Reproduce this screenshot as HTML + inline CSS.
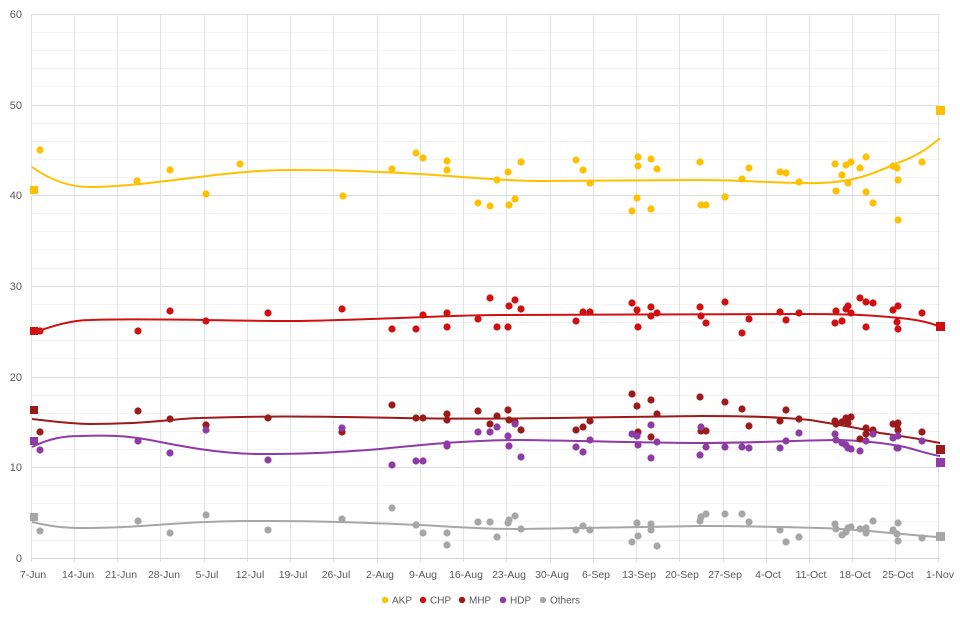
<!DOCTYPE html>
<html><head><meta charset="utf-8"><style>
body{margin:0;background:#fff;}
svg{display:block;font-family:"Liberation Sans",sans-serif;}
</style></head><body>
<svg width="960" height="620" viewBox="0 0 960 620">
<g stroke="#f3f3f3" stroke-width="1">
<line x1="31" x2="940" y1="32.5" y2="32.5"/><line x1="31" x2="940" y1="50.5" y2="50.5"/><line x1="31" x2="940" y1="68.5" y2="68.5"/><line x1="31" x2="940" y1="86.5" y2="86.5"/>
<line x1="31" x2="940" y1="123.5" y2="123.5"/><line x1="31" x2="940" y1="141.5" y2="141.5"/><line x1="31" x2="940" y1="159.5" y2="159.5"/><line x1="31" x2="940" y1="177.5" y2="177.5"/>
<line x1="31" x2="940" y1="213.5" y2="213.5"/><line x1="31" x2="940" y1="231.5" y2="231.5"/><line x1="31" x2="940" y1="249.5" y2="249.5"/><line x1="31" x2="940" y1="268.5" y2="268.5"/>
<line x1="31" x2="940" y1="304.5" y2="304.5"/><line x1="31" x2="940" y1="322.5" y2="322.5"/><line x1="31" x2="940" y1="340.5" y2="340.5"/><line x1="31" x2="940" y1="358.5" y2="358.5"/>
<line x1="31" x2="940" y1="395.5" y2="395.5"/><line x1="31" x2="940" y1="413.5" y2="413.5"/><line x1="31" x2="940" y1="431.5" y2="431.5"/><line x1="31" x2="940" y1="449.5" y2="449.5"/>
<line x1="31" x2="940" y1="485.5" y2="485.5"/><line x1="31" x2="940" y1="503.5" y2="503.5"/><line x1="31" x2="940" y1="521.5" y2="521.5"/><line x1="31" x2="940" y1="540.5" y2="540.5"/>
</g>
<g stroke="#dcdcdc" stroke-width="1">
<line x1="31" x2="940" y1="14.5" y2="14.5"/><line x1="31" x2="940" y1="105.5" y2="105.5"/><line x1="31" x2="940" y1="195.5" y2="195.5"/><line x1="31" x2="940" y1="286.5" y2="286.5"/><line x1="31" x2="940" y1="377.5" y2="377.5"/><line x1="31" x2="940" y1="467.5" y2="467.5"/>
</g>
<g stroke="#e2e2e2" stroke-width="1">
<line x1="31.5" x2="31.5" y1="14" y2="562"/><line x1="74.5" x2="74.5" y1="14" y2="562"/><line x1="117.5" x2="117.5" y1="14" y2="562"/><line x1="160.5" x2="160.5" y1="14" y2="562"/><line x1="204.5" x2="204.5" y1="14" y2="562"/><line x1="247.5" x2="247.5" y1="14" y2="562"/><line x1="290.5" x2="290.5" y1="14" y2="562"/><line x1="333.5" x2="333.5" y1="14" y2="562"/><line x1="377.5" x2="377.5" y1="14" y2="562"/><line x1="420.5" x2="420.5" y1="14" y2="562"/><line x1="463.5" x2="463.5" y1="14" y2="562"/><line x1="506.5" x2="506.5" y1="14" y2="562"/><line x1="550.5" x2="550.5" y1="14" y2="562"/><line x1="593.5" x2="593.5" y1="14" y2="562"/><line x1="636.5" x2="636.5" y1="14" y2="562"/><line x1="679.5" x2="679.5" y1="14" y2="562"/><line x1="723.5" x2="723.5" y1="14" y2="562"/><line x1="766.5" x2="766.5" y1="14" y2="562"/><line x1="809.5" x2="809.5" y1="14" y2="562"/><line x1="852.5" x2="852.5" y1="14" y2="562"/><line x1="895.5" x2="895.5" y1="14" y2="562"/><line x1="938.5" x2="938.5" y1="14" y2="562"/>
</g>
<line x1="31" x2="940" y1="558.5" y2="558.5" stroke="#cfcfcf"/>
<g fill="#595959" font-size="11" text-anchor="end">
<text x="22" y="18">60</text><text x="22" y="109">50</text><text x="22" y="199">40</text><text x="22" y="290">30</text><text x="22" y="381">20</text><text x="22" y="471">10</text><text x="22" y="562">0</text>
</g>
<g fill="#595959" font-size="10.5" text-anchor="middle">
<text x="33" y="578">7-Jun</text><text x="78" y="578">14-Jun</text><text x="121" y="578">21-Jun</text><text x="164" y="578">28-Jun</text><text x="207" y="578">5-Jul</text><text x="250" y="578">12-Jul</text><text x="293" y="578">19-Jul</text><text x="336" y="578">26-Jul</text><text x="380" y="578">2-Aug</text><text x="423" y="578">9-Aug</text><text x="466" y="578">16-Aug</text><text x="509" y="578">23-Aug</text><text x="552" y="578">30-Aug</text><text x="596" y="578">6-Sep</text><text x="639" y="578">13-Sep</text><text x="682" y="578">20-Sep</text><text x="725" y="578">27-Sep</text><text x="768" y="578">4-Oct</text><text x="811" y="578">11-Oct</text><text x="855" y="578">18-Oct</text><text x="898" y="578">25-Oct</text><text x="940" y="578">1-Nov</text>
</g>
<g fill="none" stroke-width="2" stroke-linejoin="round">
<path stroke="#FFC000" d="M32,167 C50,180 70,187 90,187 C150,187 220,170 290,170 C350,170 380,172 420,174 C480,178 510,181 540,181 C600,181 650,180 700,180 C750,180 780,184 820,183 C860,182 880,170 900,162 C920,155 932,145 940,138"/>
<path stroke="#D01010" d="M32,333 C50,327 70,320 90,320 C150,318 220,321 300,321 C400,319 450,315 500,315 C600,315 700,314 800,314 C850,314 870,315 900,318 C920,320 932,323 940,327"/>
<path stroke="#9B1B1B" d="M32,419 C50,421 70,424 90,424 C150,424 180,418 200,418 C260,416 300,416 400,418 C500,420 600,417 700,416 C750,416 780,417 810,420 C840,425 860,428 880,433 C910,437 930,441 940,443"/>
<path stroke="#8E3BA6" d="M32,447 C50,438 65,436 80,436 C110,435 130,436 150,440 C180,446 220,454 260,454 C300,454 330,453 380,449 C430,444 470,440 520,440 C600,441 650,443 700,443 C760,443 800,440 840,440 C870,441 890,444 905,447 C920,451 932,455 940,456"/>
<path stroke="#A6A6A6" d="M32,522 C45,525 60,528 80,528 C120,528 140,526 170,524 C210,521 240,521 270,521 C330,521 370,523 420,525 C460,527 480,529 520,529 C580,528 640,527 700,526 C760,526 780,527 820,528 C850,529 870,531 890,533 C915,535 930,537 940,537"/>
</g>
<g fill="#FFC000">
<rect x="30" y="186" width="8" height="8"/><rect x="936" y="106" width="9" height="9"/>
<circle cx="40" cy="150" r="3.6"/><circle cx="137" cy="181" r="3.6"/><circle cx="170" cy="170" r="3.6"/><circle cx="206" cy="194" r="3.6"/><circle cx="240" cy="164" r="3.6"/><circle cx="343" cy="196" r="3.6"/><circle cx="392" cy="169" r="3.6"/><circle cx="416" cy="153" r="3.6"/><circle cx="423" cy="158" r="3.6"/><circle cx="447" cy="161" r="3.6"/><circle cx="447" cy="170" r="3.6"/><circle cx="478" cy="203" r="3.6"/><circle cx="490" cy="206" r="3.6"/><circle cx="497" cy="180" r="3.6"/><circle cx="508" cy="172" r="3.6"/><circle cx="509" cy="205" r="3.6"/><circle cx="515" cy="199" r="3.6"/><circle cx="521" cy="162" r="3.6"/><circle cx="576" cy="160" r="3.6"/><circle cx="583" cy="170" r="3.6"/><circle cx="590" cy="183" r="3.6"/><circle cx="632" cy="211" r="3.6"/><circle cx="637" cy="198" r="3.6"/><circle cx="638" cy="157" r="3.6"/><circle cx="638" cy="166" r="3.6"/><circle cx="651" cy="159" r="3.6"/><circle cx="651" cy="209" r="3.6"/><circle cx="657" cy="169" r="3.6"/><circle cx="700" cy="162" r="3.6"/><circle cx="701" cy="205" r="3.6"/><circle cx="706" cy="205" r="3.6"/><circle cx="725" cy="197" r="3.6"/><circle cx="742" cy="179" r="3.6"/><circle cx="749" cy="168" r="3.6"/><circle cx="780" cy="172" r="3.6"/><circle cx="786" cy="173" r="3.6"/><circle cx="799" cy="182" r="3.6"/><circle cx="835" cy="164" r="3.6"/><circle cx="836" cy="191" r="3.6"/><circle cx="842" cy="175" r="3.6"/><circle cx="846" cy="165" r="3.6"/><circle cx="848" cy="183" r="3.6"/><circle cx="851" cy="162" r="3.6"/><circle cx="860" cy="168" r="3.6"/><circle cx="866" cy="157" r="3.6"/><circle cx="866" cy="192" r="3.6"/><circle cx="873" cy="203" r="3.6"/><circle cx="893" cy="166" r="3.6"/><circle cx="897" cy="168" r="3.6"/><circle cx="898" cy="220" r="3.6"/><circle cx="898" cy="180" r="3.6"/><circle cx="922" cy="162" r="3.6"/>
</g>
<g fill="#D01010">
<rect x="30" y="327" width="8" height="8"/><rect x="936" y="322" width="9" height="9"/>
<circle cx="40" cy="331" r="3.6"/><circle cx="138" cy="331" r="3.6"/><circle cx="170" cy="311" r="3.6"/><circle cx="206" cy="321" r="3.6"/><circle cx="268" cy="313" r="3.6"/><circle cx="342" cy="309" r="3.6"/><circle cx="392" cy="329" r="3.6"/><circle cx="416" cy="329" r="3.6"/><circle cx="423" cy="315" r="3.6"/><circle cx="447" cy="313" r="3.6"/><circle cx="447" cy="327" r="3.6"/><circle cx="478" cy="319" r="3.6"/><circle cx="490" cy="298" r="3.6"/><circle cx="497" cy="327" r="3.6"/><circle cx="508" cy="327" r="3.6"/><circle cx="509" cy="306" r="3.6"/><circle cx="515" cy="300" r="3.6"/><circle cx="521" cy="309" r="3.6"/><circle cx="576" cy="321" r="3.6"/><circle cx="583" cy="312" r="3.6"/><circle cx="590" cy="312" r="3.6"/><circle cx="632" cy="303" r="3.6"/><circle cx="637" cy="310" r="3.6"/><circle cx="638" cy="327" r="3.6"/><circle cx="651" cy="307" r="3.6"/><circle cx="651" cy="316" r="3.6"/><circle cx="657" cy="313" r="3.6"/><circle cx="700" cy="307" r="3.6"/><circle cx="701" cy="316" r="3.6"/><circle cx="706" cy="323" r="3.6"/><circle cx="725" cy="302" r="3.6"/><circle cx="742" cy="333" r="3.6"/><circle cx="749" cy="319" r="3.6"/><circle cx="780" cy="312" r="3.6"/><circle cx="786" cy="320" r="3.6"/><circle cx="799" cy="313" r="3.6"/><circle cx="835" cy="323" r="3.6"/><circle cx="836" cy="311" r="3.6"/><circle cx="842" cy="321" r="3.6"/><circle cx="846" cy="309" r="3.6"/><circle cx="848" cy="306" r="3.6"/><circle cx="851" cy="313" r="3.6"/><circle cx="860" cy="298" r="3.6"/><circle cx="866" cy="302" r="3.6"/><circle cx="866" cy="327" r="3.6"/><circle cx="873" cy="303" r="3.6"/><circle cx="893" cy="310" r="3.6"/><circle cx="897" cy="322" r="3.6"/><circle cx="898" cy="329" r="3.6"/><circle cx="898" cy="306" r="3.6"/><circle cx="922" cy="313" r="3.6"/>
</g>
<g fill="#9B1B1B">
<rect x="30" y="406" width="8" height="8"/><rect x="936" y="445" width="9" height="9"/>
<circle cx="40" cy="432" r="3.6"/><circle cx="138" cy="411" r="3.6"/><circle cx="170" cy="419" r="3.6"/><circle cx="206" cy="425" r="3.6"/><circle cx="268" cy="418" r="3.6"/><circle cx="342" cy="432" r="3.6"/><circle cx="392" cy="405" r="3.6"/><circle cx="416" cy="418" r="3.6"/><circle cx="423" cy="418" r="3.6"/><circle cx="447" cy="414" r="3.6"/><circle cx="447" cy="420" r="3.6"/><circle cx="478" cy="411" r="3.6"/><circle cx="490" cy="424" r="3.6"/><circle cx="497" cy="416" r="3.6"/><circle cx="508" cy="410" r="3.6"/><circle cx="509" cy="420" r="3.6"/><circle cx="515" cy="422" r="3.6"/><circle cx="521" cy="430" r="3.6"/><circle cx="576" cy="430" r="3.6"/><circle cx="583" cy="427" r="3.6"/><circle cx="590" cy="421" r="3.6"/><circle cx="632" cy="394" r="3.6"/><circle cx="637" cy="406" r="3.6"/><circle cx="638" cy="432" r="3.6"/><circle cx="651" cy="400" r="3.6"/><circle cx="651" cy="437" r="3.6"/><circle cx="657" cy="414" r="3.6"/><circle cx="700" cy="397" r="3.6"/><circle cx="701" cy="431" r="3.6"/><circle cx="706" cy="431" r="3.6"/><circle cx="725" cy="402" r="3.6"/><circle cx="742" cy="409" r="3.6"/><circle cx="749" cy="426" r="3.6"/><circle cx="780" cy="421" r="3.6"/><circle cx="786" cy="410" r="3.6"/><circle cx="799" cy="419" r="3.6"/><circle cx="835" cy="421" r="3.6"/><circle cx="836" cy="424" r="3.6"/><circle cx="842" cy="422" r="3.6"/><circle cx="846" cy="418" r="3.6"/><circle cx="848" cy="423" r="3.6"/><circle cx="851" cy="417" r="3.6"/><circle cx="860" cy="439" r="3.6"/><circle cx="866" cy="434" r="3.6"/><circle cx="866" cy="428" r="3.6"/><circle cx="873" cy="430" r="3.6"/><circle cx="893" cy="424" r="3.6"/><circle cx="897" cy="425" r="3.6"/><circle cx="898" cy="430" r="3.6"/><circle cx="898" cy="423" r="3.6"/><circle cx="922" cy="432" r="3.6"/>
</g>
<g fill="#8E3BA6">
<rect x="30" y="437" width="8" height="8"/><rect x="936" y="458" width="9" height="9"/>
<circle cx="40" cy="450" r="3.6"/><circle cx="138" cy="441" r="3.6"/><circle cx="170" cy="453" r="3.6"/><circle cx="206" cy="430" r="3.6"/><circle cx="268" cy="460" r="3.6"/><circle cx="342" cy="428" r="3.6"/><circle cx="392" cy="465" r="3.6"/><circle cx="416" cy="461" r="3.6"/><circle cx="423" cy="461" r="3.6"/><circle cx="447" cy="444" r="3.6"/><circle cx="447" cy="446" r="3.6"/><circle cx="478" cy="432" r="3.6"/><circle cx="490" cy="432" r="3.6"/><circle cx="497" cy="427" r="3.6"/><circle cx="508" cy="436" r="3.6"/><circle cx="509" cy="446" r="3.6"/><circle cx="515" cy="424" r="3.6"/><circle cx="521" cy="457" r="3.6"/><circle cx="576" cy="447" r="3.6"/><circle cx="583" cy="452" r="3.6"/><circle cx="590" cy="440" r="3.6"/><circle cx="632" cy="434" r="3.6"/><circle cx="637" cy="436" r="3.6"/><circle cx="638" cy="445" r="3.6"/><circle cx="651" cy="425" r="3.6"/><circle cx="651" cy="458" r="3.6"/><circle cx="657" cy="442" r="3.6"/><circle cx="700" cy="455" r="3.6"/><circle cx="701" cy="427" r="3.6"/><circle cx="706" cy="447" r="3.6"/><circle cx="725" cy="447" r="3.6"/><circle cx="742" cy="447" r="3.6"/><circle cx="749" cy="448" r="3.6"/><circle cx="780" cy="448" r="3.6"/><circle cx="786" cy="441" r="3.6"/><circle cx="799" cy="433" r="3.6"/><circle cx="835" cy="434" r="3.6"/><circle cx="836" cy="440" r="3.6"/><circle cx="842" cy="443" r="3.6"/><circle cx="846" cy="445" r="3.6"/><circle cx="848" cy="448" r="3.6"/><circle cx="851" cy="449" r="3.6"/><circle cx="860" cy="451" r="3.6"/><circle cx="866" cy="441" r="3.6"/><circle cx="873" cy="434" r="3.6"/><circle cx="893" cy="438" r="3.6"/><circle cx="897" cy="448" r="3.6"/><circle cx="898" cy="448" r="3.6"/><circle cx="898" cy="436" r="3.6"/><circle cx="922" cy="441" r="3.6"/>
</g>
<g fill="#A6A6A6">
<rect x="30" y="513" width="8" height="8"/><rect x="936" y="532" width="9" height="9"/>
<circle cx="40" cy="531" r="3.6"/><circle cx="138" cy="521" r="3.6"/><circle cx="170" cy="533" r="3.6"/><circle cx="206" cy="515" r="3.6"/><circle cx="268" cy="530" r="3.6"/><circle cx="342" cy="519" r="3.6"/><circle cx="392" cy="508" r="3.6"/><circle cx="416" cy="525" r="3.6"/><circle cx="423" cy="533" r="3.6"/><circle cx="447" cy="533" r="3.6"/><circle cx="447" cy="545" r="3.6"/><circle cx="478" cy="522" r="3.6"/><circle cx="490" cy="522" r="3.6"/><circle cx="497" cy="537" r="3.6"/><circle cx="508" cy="523" r="3.6"/><circle cx="509" cy="520" r="3.6"/><circle cx="515" cy="516" r="3.6"/><circle cx="521" cy="529" r="3.6"/><circle cx="576" cy="530" r="3.6"/><circle cx="583" cy="526" r="3.6"/><circle cx="590" cy="530" r="3.6"/><circle cx="632" cy="542" r="3.6"/><circle cx="637" cy="523" r="3.6"/><circle cx="638" cy="536" r="3.6"/><circle cx="651" cy="524" r="3.6"/><circle cx="651" cy="530" r="3.6"/><circle cx="657" cy="546" r="3.6"/><circle cx="700" cy="521" r="3.6"/><circle cx="701" cy="517" r="3.6"/><circle cx="706" cy="514" r="3.6"/><circle cx="725" cy="514" r="3.6"/><circle cx="742" cy="514" r="3.6"/><circle cx="749" cy="522" r="3.6"/><circle cx="780" cy="530" r="3.6"/><circle cx="786" cy="542" r="3.6"/><circle cx="799" cy="537" r="3.6"/><circle cx="835" cy="524" r="3.6"/><circle cx="836" cy="529" r="3.6"/><circle cx="842" cy="535" r="3.6"/><circle cx="846" cy="532" r="3.6"/><circle cx="848" cy="528" r="3.6"/><circle cx="851" cy="527" r="3.6"/><circle cx="860" cy="529" r="3.6"/><circle cx="866" cy="528" r="3.6"/><circle cx="866" cy="533" r="3.6"/><circle cx="873" cy="521" r="3.6"/><circle cx="893" cy="530" r="3.6"/><circle cx="897" cy="534" r="3.6"/><circle cx="898" cy="541" r="3.6"/><circle cx="898" cy="523" r="3.6"/><circle cx="922" cy="538" r="3.6"/>
</g>
<g font-size="10" fill="#595959">
<circle cx="385" cy="600" r="3.2" fill="#FFC000"/><text x="392" y="603.5">AKP</text>
<circle cx="423" cy="600" r="3.2" fill="#D01010"/><text x="430" y="603.5">CHP</text>
<circle cx="462" cy="600" r="3.2" fill="#9B1B1B"/><text x="469" y="603.5">MHP</text>
<circle cx="503" cy="600" r="3.2" fill="#8E3BA6"/><text x="510" y="603.5">HDP</text>
<circle cx="543" cy="600" r="3.2" fill="#A6A6A6"/><text x="550" y="603.5">Others</text>
</g>
</svg>
</body></html>
